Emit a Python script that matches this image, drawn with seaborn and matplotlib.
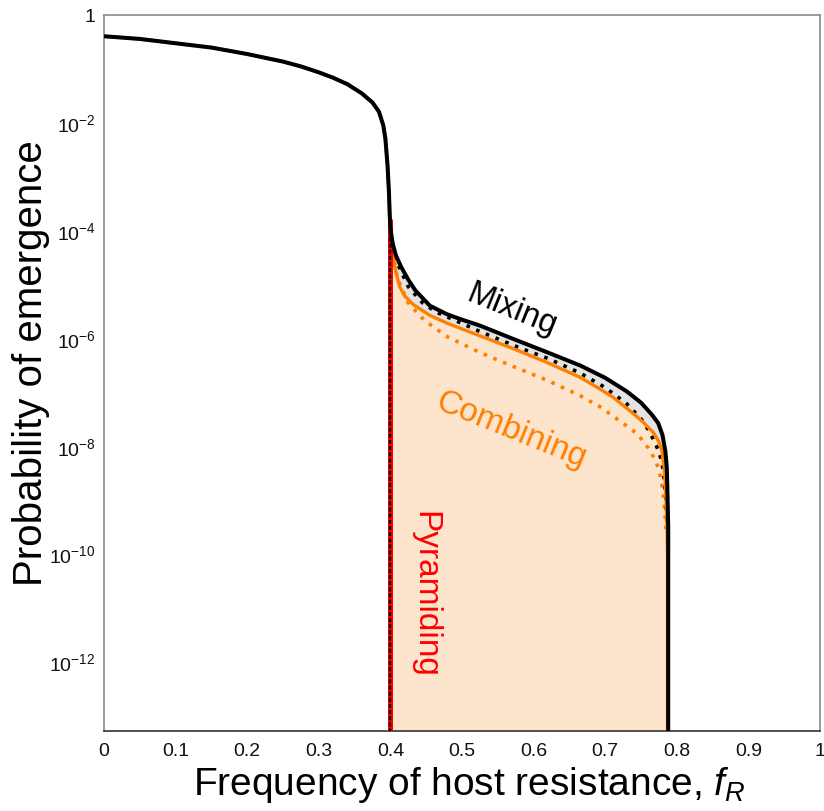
import numpy as np
import pandas as pd
import matplotlib
matplotlib.use("Agg")
import matplotlib.pyplot as plt
import seaborn as sns

sns.set_theme(style="white")
plt.rcParams["font.family"] = ["Liberation Sans", "DejaVu Sans"]
plt.rcParams["mathtext.fontset"] = "custom"
plt.rcParams["mathtext.rm"] = "Liberation Sans"
plt.rcParams["mathtext.it"] = "Liberation Sans:italic"
plt.rcParams["mathtext.default"] = "regular"

# ---- data: probability of emergence as log10 values vs frequency of host resistance ----
Y_FLOOR = -13.3  # lower limit of the axis (log10)

# common part of all strategies below the resistance threshold
shared_f = [0.000, 0.050, 0.100, 0.150, 0.200, 0.250, 0.275, 0.300, 0.320,
            0.340, 0.360, 0.375, 0.384, 0.390, 0.393, 0.396, 0.398]
shared_log = [-0.40, -0.45, -0.53, -0.61, -0.73, -0.87, -0.96, -1.07, -1.17,
              -1.29, -1.46, -1.63, -1.80, -2.05, -2.30, -2.80, -3.30]

# mixing (solid black)
mixing_f = [0.399, 0.400, 0.402, 0.404, 0.408, 0.415, 0.425, 0.435, 0.455,
            0.479, 0.500, 0.525, 0.572, 0.618, 0.665, 0.700, 0.730, 0.750,
            0.765, 0.774, 0.780, 0.784, 0.786, 0.787, 0.788, 0.788]
mixing_log = [-3.70, -3.95, -4.15, -4.29, -4.48, -4.68, -4.92, -5.12, -5.40,
              -5.56, -5.66, -5.77, -6.02, -6.26, -6.51, -6.74, -6.99, -7.20,
              -7.42, -7.58, -7.80, -8.10, -8.40, -8.90, -9.50, Y_FLOOR]

# combining (solid orange)
combining_f = [0.399, 0.400, 0.401, 0.404, 0.408, 0.413, 0.420, 0.432, 0.455,
               0.480, 0.525, 0.572, 0.618, 0.665, 0.693, 0.711, 0.739, 0.752,
               0.767, 0.774, 0.779, 0.782, 0.784, 0.786, 0.787, 0.787]
combining_log = [-3.70, -3.95, -4.20, -4.50, -4.80, -5.05, -5.22, -5.38, -5.58,
                 -5.73, -5.96, -6.20, -6.45, -6.73, -6.95, -7.10, -7.40, -7.55,
                 -7.75, -7.90, -8.08, -8.35, -8.70, -9.30, -10.0, Y_FLOOR]

# mixing, alternative parameters (dotted black)
mixing_alt_f = [0.400, 0.410, 0.425, 0.445, 0.464, 0.500, 0.525, 0.580, 0.620,
                0.665, 0.700, 0.730, 0.750, 0.760, 0.768, 0.774, 0.778, 0.781,
                0.783, 0.785, 0.786]
mixing_alt_log = [-4.10, -4.62, -5.05, -5.35, -5.52, -5.73, -5.88, -6.18, -6.38,
                  -6.65, -6.92, -7.22, -7.50, -7.70, -7.90, -8.08, -8.25, -8.45,
                  -8.70, -9.00, -9.40]

# combining, alternative parameters (dotted orange)
combining_alt_f = [0.400, 0.410, 0.425, 0.448, 0.480, 0.525, 0.570, 0.618, 0.665,
                   0.693, 0.711, 0.739, 0.751, 0.760, 0.768, 0.774, 0.778, 0.781,
                   0.783, 0.784, 0.785]
combining_alt_log = [-4.20, -4.90, -5.35, -5.68, -5.98, -6.27, -6.52, -6.78, -7.07,
                     -7.28, -7.45, -7.72, -7.88, -8.04, -8.22, -8.40, -8.62, -8.90,
                     -9.17, -9.35, -9.60]

# pyramiding: only viable exactly at the threshold
pyramiding_f = [0.4, 0.4]
pyramiding_log = [-3.8, Y_FLOOR]

x_ticks = [0, 0.1, 0.2, 0.3, 0.4, 0.5, 0.6, 0.7, 0.8, 0.9, 1]
x_tick_labels = ["0", "0.1", "0.2", "0.3", "0.4", "0.5", "0.6", "0.7", "0.8", "0.9", "1"]
y_tick_exponents = [0, -2, -4, -6, -8, -10, -12]

# colours
BLACK = "#000000"
ORANGE = "#ff8000"
RED = "#ff0000"
GREY_FILL = "#e3e3e3"
PEACH_FILL = "#fde4cc"
SPINE_GREY = "#8a8a8a"


def frame(f, logp):
    return pd.DataFrame({"f": f, "p": np.power(10.0, logp)})


mixing = frame(shared_f + mixing_f, shared_log + mixing_log)
combining = frame(shared_f + combining_f, shared_log + combining_log)
mixing_alt = frame(mixing_alt_f, mixing_alt_log)
combining_alt = frame(combining_alt_f, combining_alt_log)
pyramiding = frame(pyramiding_f, pyramiding_log)

W, H = 824, 812
fig = plt.figure(figsize=(W / 100, H / 100), dpi=100)
ax = fig.add_axes([104 / W, 1 - 732.3 / H, (820 - 104) / W, (732.3 - 15.7) / H])
ax.set_yscale("log")
ax.set_xlim(0, 1)
ax.set_ylim(10 ** Y_FLOOR, 1)

# shaded areas: grey between mixing and combining, peach under combining
m_tail = frame(mixing_f, mixing_log)
c_tail = frame(combining_f, combining_log)
grey_x = list(m_tail["f"]) + list(c_tail["f"][::-1])
grey_y = list(m_tail["p"]) + list(c_tail["p"][::-1])
ax.fill(grey_x, grey_y, color=GREY_FILL, lw=0, zorder=1)
peach_x = [0.4] + list(c_tail["f"]) + [0.4]
peach_y = [c_tail["p"].iloc[0]] + list(c_tail["p"]) + [10 ** Y_FLOOR]
ax.fill(peach_x, peach_y, color=PEACH_FILL, lw=0, zorder=1.5)

common = dict(ax=ax, x="f", y="p", estimator=None, sort=False, legend=False)
sns.lineplot(data=combining_alt, color=ORANGE, lw=2.6,
             linestyle=(0, (1, 1.9)), zorder=3, **common)
sns.lineplot(data=mixing_alt, color=BLACK, lw=2.6,
             linestyle=(0, (1, 1.9)), zorder=3.2, **common)
sns.lineplot(data=combining, color=ORANGE, lw=2.4, zorder=4, **common)
sns.lineplot(data=pyramiding, color=RED, lw=3.6, zorder=4.5, **common)
sns.lineplot(data=pyramiding, color=BLACK, lw=1.7,
             linestyle=(0, (1.7, 0.9)), zorder=4.7, **common)
sns.lineplot(data=mixing, color=BLACK, lw=2.9, zorder=5, **common)
for line in ax.get_lines():
    line.set_solid_capstyle("butt")
    line.set_dash_capstyle("butt")

# curve labels
ax.text(0.569, 10 ** -5.46, "Mixing", color=BLACK, fontsize=23.5,
        rotation=-22, ha="center", va="center", rotation_mode="anchor", zorder=7)
ax.text(0.569, 10 ** -7.69, "Combining", color=ORANGE, fontsize=24,
        rotation=-22, ha="center", va="center", rotation_mode="anchor", zorder=7)
ax.text(0.448, 10 ** -10.75, "Pyramiding", color=RED, fontsize=24,
        rotation=-90, ha="center", va="center", rotation_mode="anchor", zorder=7)

# axes styling
ax.set_xticks(x_ticks)
ax.set_xticklabels(x_tick_labels)
ax.set_yticks([10.0 ** e for e in y_tick_exponents])
ax.set_yticklabels(["1" if e == 0 else r"$10^{%d}$" % e for e in y_tick_exponents])
ax.yaxis.set_minor_locator(matplotlib.ticker.NullLocator())
ax.tick_params(axis="both", which="major", direction="in", length=8, width=1.0,
               color=SPINE_GREY, labelsize=14, labelcolor="#111111")
ax.tick_params(axis="x", pad=8)
ax.tick_params(axis="y", pad=6)
for side in ["left", "top", "right"]:
    ax.spines[side].set_color(SPINE_GREY)
    ax.spines[side].set_linewidth(1.2)
ax.spines["bottom"].set_color("#333333")
ax.spines["bottom"].set_linewidth(1.2)
ax.grid(False)

ax.set_xlabel(r"Frequency of host resistance, $\mathit{f}_{\mathit{R}}$",
              fontsize=28, color=BLACK)
ax.set_ylabel("Probability of emergence", fontsize=29, color=BLACK)
ax.xaxis.set_label_coords(0.51, -0.045)
ax.yaxis.set_label_coords(-0.075, 0.515)

fig.savefig("out.png", dpi=100, facecolor="white")
